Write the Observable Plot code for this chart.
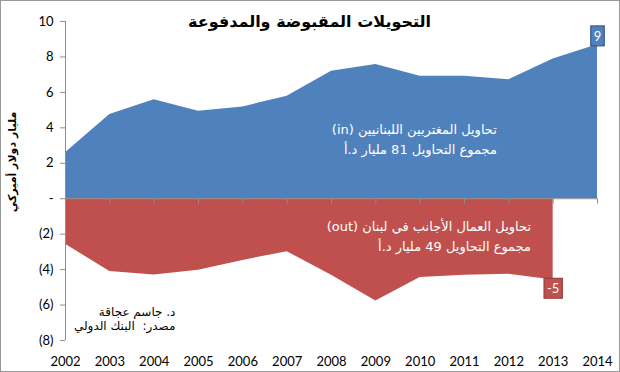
<!DOCTYPE html>
<html>
<head>
<meta charset="utf-8">
<script src="https://cdn.jsdelivr.net/npm/d3@7"></script>
<script src="https://cdn.jsdelivr.net/npm/@observablehq/plot@0.6"></script>
<style>
  html, body { margin: 0; padding: 0; background: #fff; }
  #chart svg { display: block; outline: 1px solid #9a9a9a; outline-offset: -1px; }
</style>
</head>
<body>
<div id="chart"></div>
<script>
// ---- data ----
const years = [2002, 2003, 2004, 2005, 2006, 2007, 2008, 2009, 2010, 2011, 2012, 2013, 2014];
const inflows = [2.59, 4.75, 5.59, 4.94, 5.18, 5.78, 7.19, 7.57, 6.91, 6.91, 6.72, 7.89, 8.69];
const outYears = [2002, 2003, 2004, 2005, 2006, 2007, 2008, 2009, 2010, 2011, 2012, 2013];
const outflows = [-2.57, -4.11, -4.30, -4.04, -3.48, -2.99, -4.32, -5.77, -4.45, -4.32, -4.26, -4.59];
const yTicks = [-8, -6, -4, -2, 0, 2, 4, 6, 8, 10];
const titleText = "التحويلات المقبوضة والمدفوعة";
const yLabelText = "مليار دولار أميركي";
const inLines = ["تحاويل المغتربين اللبنانيين (in)", "مجموع التحاويل 81 مليار د.أ"];
const outLines = ["تحاويل العمال الأجانب في لبنان (out)", "مجموع التحاويل 49 مليار د.أ"];
const creditLines = ["د. جاسم عجاقة", "مصدر:  البنك الدولي"];
const inLabel = "9";
const outLabel = "-5";

const blue = "#4f81bd", red = "#c0504d";
const rtl = s => "\u202B" + s + "\u202C";
const inData = years.map((y, i) => ({year: y, v: inflows[i]}));
const outData = outYears.map((y, i) => ({year: y, v: outflows[i]}));
const fmtY = d => d === 0 ? "-" : d < 0 ? `(${-d})` : `${d}`;
const lastIn = inData[inData.length - 1];
const lastOut = outData[outData.length - 1];

const chart = Plot.plot({
  width: 620,
  height: 372,
  marginLeft: 65,
  marginRight: 23,
  marginTop: 21,
  marginBottom: 32,
  style: {fontFamily: "Lato, 'Liberation Sans', sans-serif", fontSize: "13px", color: "#000", background: "#fff", overflow: "visible"},
  x: {domain: [2002, 2014]},
  y: {domain: [-8, 10]},
  marks: [
    Plot.areaY(inData, {x: "year", y: "v", fill: blue}),
    Plot.areaY(outData, {x: "year", y: "v", fill: red}),
    Plot.ruleY([0], {stroke: "#8e8e8e", strokeWidth: 1}),
    Plot.ruleX(years.slice(1), {x: d => d, y1: 0, y2: -0.3, stroke: "#8e8e8e"}),
    Plot.ruleX([years[0]], {stroke: "#8e8e8e"}),
    Plot.axisY(yTicks, {tickFormat: fmtY, tickSize: 5, tickPadding: 7, stroke: "#8e8e8e", fontSize: 13, fill: "#000", label: null}),
    Plot.axisX(years, {tickFormat: d => String(d), tickSize: 0, tickPadding: 16, fontSize: 13, fill: "#000", label: null}),
    // title
    Plot.text([titleText], {frameAnchor: "top", text: d => rtl(d), dx: -22, dy: -6, fontSize: 16, fontWeight: "bold", fontFamily: "'DejaVu Sans', sans-serif", fill: "#000"}),
    // y label
    Plot.text([yLabelText], {frameAnchor: "left", textAnchor: "middle", text: d => rtl(d), rotate: -90, dx: -53, dy: -19, fontSize: 11, fontWeight: "bold", fontFamily: "'DejaVu Sans', sans-serif", fill: "#000"}),
    // annotations
    Plot.text([inLines.map(rtl).join("\n")], {x: [2011.73], y: [3.45], text: d => d, textAnchor: "end", lineHeight: 1.5, fontSize: 13, fill: "#fff", fontFamily: "'DejaVu Sans', sans-serif"}),
    Plot.text([outLines.map(rtl).join("\n")], {x: [2012.5], y: [-2.02], text: d => d, textAnchor: "end", lineHeight: 1.5, fontSize: 13, fill: "#fff", fontFamily: "'DejaVu Sans', sans-serif"}),
    Plot.text([creditLines.map(rtl).join("\n")], {x: [2004.48], y: [-6.75], text: d => d, textAnchor: "end", lineHeight: 1.2, fontSize: 12, fill: "#000", fontFamily: "'DejaVu Sans', sans-serif"}),
    // value labels
    Plot.text([lastIn], {x: "year", y: "v", text: () => inLabel, dy: -8, fontSize: 13, fill: "#fff", className: "vlabel-in"}),
    Plot.text([lastOut], {x: "year", y: "v", text: () => outLabel, dy: 9, fontSize: 13, fill: "#fff", className: "vlabel-out"})
  ]
});

document.getElementById("chart").appendChild(chart);

// boxes behind the value labels
function boxBehind(sel, fill, stroke, padX, padY) {
  d3.select(chart).selectAll(sel + " text").each(function () {
    const bb = this.getBBox();
    const parent = this.parentNode;
    const tr = this.getAttribute("transform");
    const r = document.createElementNS("http://www.w3.org/2000/svg", "rect");
    r.setAttribute("x", bb.x - padX);
    r.setAttribute("y", bb.y - padY);
    r.setAttribute("width", bb.width + 2 * padX);
    r.setAttribute("height", bb.height + 2 * padY);
    r.setAttribute("fill", fill);
    r.setAttribute("stroke", stroke);
    r.setAttribute("stroke-width", 1);
    if (tr) r.setAttribute("transform", tr);
    parent.insertBefore(r, this);
  });
}
boxBehind(".vlabel-in", blue, "#2c4d75", 3, 2);
boxBehind(".vlabel-out", red, "#8c3836", 3, 2);
</script>
</body>
</html>
